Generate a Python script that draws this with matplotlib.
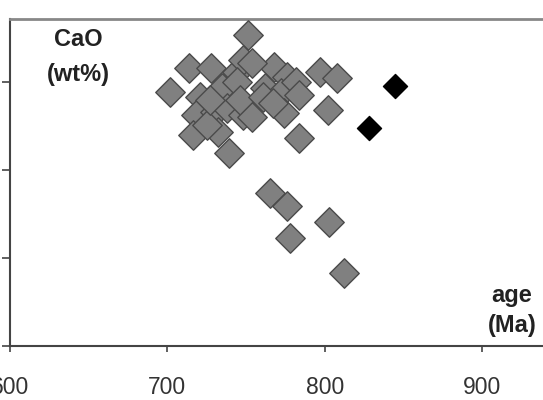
import matplotlib
matplotlib.use("Agg")

import matplotlib.pyplot as plt

# gray diamonds (age in Ma, CaO in wt%)
age_gray = [751, 714, 728, 744, 748, 702, 721, 735, 744, 718,
            730, 738, 748, 716, 732, 739, 725, 746, 727,
            768, 754, 776, 762, 772, 782, 784, 761, 774, 767,
            797, 808, 802, 784, 754,
            765, 776, 778, 803, 812]
cao_gray = [3.53, 3.16, 3.16, 3.11, 3.25, 2.89, 2.83, 2.93, 3.00, 2.63,
            2.66, 2.70, 2.63, 2.40, 2.43, 2.19, 2.51, 2.80, 2.80,
            3.17, 3.22, 3.06, 2.93, 2.88, 3.00, 2.85, 2.83, 2.65, 2.76,
            3.11, 3.05, 2.68, 2.36, 2.60,
            1.74, 1.59, 1.23, 1.41, 0.83]

# black diamonds
age_black = [828, 845]
cao_black = [2.48, 2.95]

x_ticks = [600, 700, 800, 900]
y_ticks = [0, 1, 2, 3]

W, H = 543, 400
fig = plt.figure(figsize=(W / 100, H / 100), dpi=100)
ax = fig.add_axes([10 / W, 54 / H, 566.4 / W, 327 / H])

ax.scatter(age_gray, cao_gray, marker="D", s=225, color="#808080",
           edgecolor="#4a4a4a", linewidth=1.0, zorder=3)
ax.scatter(age_black, cao_black, marker="D", s=150, color="black",
           edgecolor="black", linewidth=1.0, zorder=3)

ax.set_xlim(600, 960)
ax.set_ylim(0, 3.716)

ax.set_xticks(x_ticks)
ax.set_xticklabels([str(t) for t in x_ticks], fontsize=16.5,
                   color="#333333", family="Liberation Sans")
ax.set_yticks(y_ticks)
ax.set_yticklabels([])
ax.tick_params(axis="x", direction="out", length=4.5, width=1.2,
               color="#444444", pad=17)
ax.tick_params(axis="y", direction="out", length=6, width=1.2,
               color="#444444")

ax.spines["right"].set_visible(False)
ax.spines["top"].set_color("#888888")
ax.spines["top"].set_linewidth(2)
ax.spines["left"].set_color("#444444")
ax.spines["left"].set_linewidth(1.5)
ax.spines["bottom"].set_color("#444444")
ax.spines["bottom"].set_linewidth(1.5)

txt = dict(fontsize=17, fontweight="bold", family="Liberation Sans",
           color="#222222", ha="center", va="baseline")
fig.text(78 / W, 1 - 46 / H, "CaO", **txt)
fig.text(78 / W, 1 - 81 / H, "(wt%)", **txt)
fig.text(512 / W, 1 - 302 / H, "age", **txt)
fig.text(512 / W, 1 - 332 / H, "(Ma)", **txt)

fig.savefig("out.png", dpi=100)
plt.close(fig)
